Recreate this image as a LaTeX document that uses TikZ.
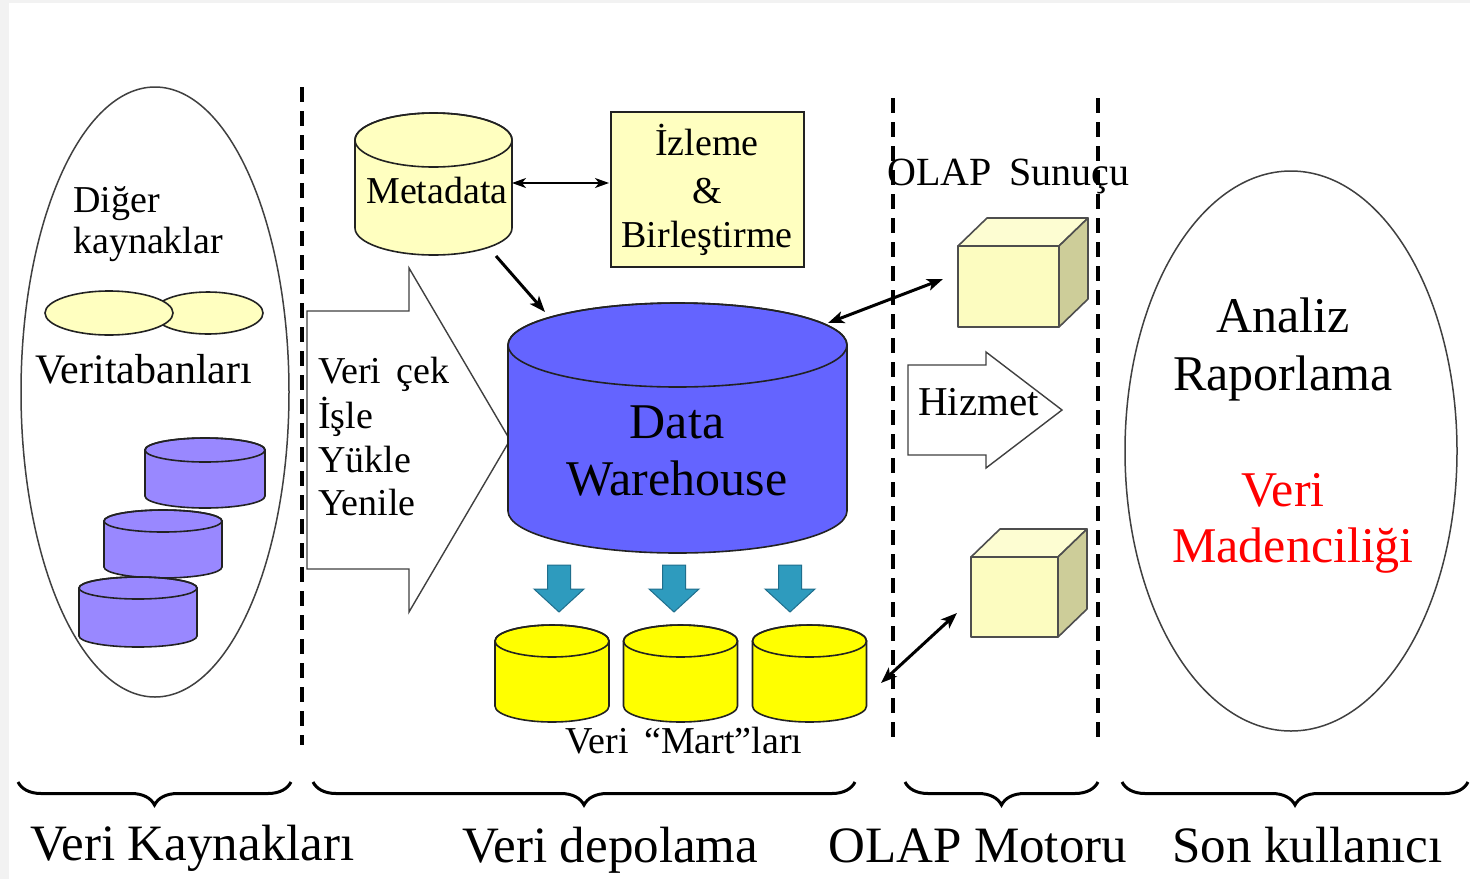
\documentclass[tikz,border=0pt]{standalone}
\usepackage{fontspec}
\setmainfont{Liberation Serif}
\usetikzlibrary{arrows.meta,decorations.pathreplacing}
\definecolor{lyel}{HTML}{FFFFC0}
\definecolor{cubefront}{HTML}{FCFCC0}
\definecolor{cubetop}{HTML}{FDFDD2}
\definecolor{cubeside}{HTML}{CDCD99}
\definecolor{lpurp}{HTML}{9988FF}
\definecolor{dwblue}{HTML}{6464FF}
\definecolor{teal}{HTML}{2E9BBE}
\definecolor{tealdark}{HTML}{1F6E8C}
\definecolor{martyel}{HTML}{FFFF00}
\definecolor{edge}{HTML}{222222}
\definecolor{bggray}{HTML}{F2F2F2}
\newcommand\szS{\fontsize{38}{44}\selectfont}
\newcommand\szM{\fontsize{42}{48}\selectfont}
\newcommand\szO{\fontsize{40}{46}\selectfont}
\newcommand\szH{\fontsize{41}{46}\selectfont}
\newcommand\szL{\fontsize{50}{57}\selectfont}
\newcommand\szB{\fontsize{51}{57}\selectfont}
% cylinder: cx, ytop, ybottom, rx, ry, fill
\newcommand\drawcyl[6]{%
  \filldraw[cylline, fill=#6] ({#1-#4},#2) -- ({#1-#4},#3)
    arc[start angle=180, end angle=0, x radius=#4, y radius=#5]
    -- ({#1+#4},#2)
    arc[start angle=0, end angle=-180, x radius=#4, y radius=#5] -- cycle;
  \draw[cylline] (#1,#2) ellipse[x radius=#4, y radius=#5];
}
% cube: x1,y1 (front top-left), x2,y2 (front bottom-right), dx, dy
\newcommand\drawcube[6]{%
  \filldraw[cubeline, fill=cubetop] (#1,#2) -- ({#1+#5},{#2+#6}) -- ({#3+#5},{#2+#6}) -- (#3,#2) -- cycle;
  \filldraw[cubeline, fill=cubeside] (#3,#2) -- ({#3+#5},{#2+#6}) -- ({#3+#5},{#4+#6}) -- (#3,#4) -- cycle;
  \filldraw[cubeline, fill=cubefront] (#1,#2) rectangle (#3,#4);
}
\newcommand\tealarrow[1]{%
  \filldraw[draw=tealdark, fill=teal, line width=1pt, line join=miter]
    ({#1-11.5},565) -- ({#1+11.5},565) -- ({#1+11.5},589) -- ({#1+25},589)
    -- (#1,612) -- ({#1-25},589) -- ({#1-11.5},589) -- cycle;
}
\begin{document}
\begin{tikzpicture}[x=1pt,y=-1pt,
  cylline/.style={draw=edge, line width=1.6pt},
  cubeline/.style={draw=edge!80, line width=1.6pt, line join=round},
  sep/.style={line width=3.6pt, dash pattern=on 15pt off 9pt},
  outl/.style={draw=black!75, line width=1.4pt},
  thinarr/.style={line width=1.6pt, {Stealth[length=14pt,width=10pt,inset=4pt]}-{Stealth[length=14pt,width=10pt,inset=4pt]}},
  thickarr/.style={line width=3pt, {Stealth[length=16pt,width=12pt,inset=4pt]}-{Stealth[length=16pt,width=12pt,inset=4pt]}},
  onearr/.style={line width=3pt, -{Stealth[length=16pt,width=12pt,inset=4pt]}},
  brc/.style={line width=3pt, decorate, decoration={brace, mirror, amplitude=23pt, aspect=0.5}},
  lbl/.style={inner sep=0pt, anchor=base west},
  lblc/.style={inner sep=0pt, anchor=base},
]
\useasboundingbox (0,0) rectangle (1470,879);
\fill[bggray] (0,0) rectangle (1470,879);
\fill[white] (9,3) rectangle (1470,879);

% separators
\draw[sep] (302,87) -- (302,745);
\draw[sep] (893,98) -- (893,742);
\draw[sep] (1098,98) -- (1098,742);

% ---------- Veri kaynaklari ----------
\draw[outl, line width=1.5pt] (155,392) ellipse[x radius=134, y radius=305];
\node[lbl] (diger) at (73,212) {\szS Diğer};
\node[lbl] (kayn) at (73,253) {\szS kaynaklar};
\filldraw[cylline, fill=lyel] (208,313) ellipse[x radius=55, y radius=21];
\filldraw[cylline, fill=lyel] (109,313) ellipse[x radius=64, y radius=22];
\node[lbl] (vtb) at (35,383) {\szM Veritabanları};
\drawcyl{205}{450}{496}{60}{12}{lpurp}
\drawcyl{163}{521}{567}{59}{11}{lpurp}
\drawcyl{138}{588}{636}{59}{11}{lpurp}

% ---------- Veri depolama ----------
\drawcyl{433.5}{140}{228}{78.5}{27}{lyel}
\node[lblc] (meta) at (437,203) {\szS Metadata};
\node[draw=edge, line width=1.6pt, fill=lyel, minimum width=193, minimum height=155, inner sep=0pt] (izl) at (707.5,189.5) {};
\node[lblc] (izl1) at (707,155) {\szS İzleme};
\node[lblc] (izl2) at (707,203) {\szS \&};
\node[lblc] (izl3) at (707,247) {\szS Birleştirme};
\coordinate (metaR) at (512,183);
\coordinate (izlL) at (609,183);
\draw[thinarr] (metaR) -- (izlL);

% big arrow
\filldraw[outl, fill=white, line join=miter] (307,311) -- (409,311) -- (409,268) -- (510,440)
  -- (409,612) -- (409,569) -- (307,569) -- cycle;
\node[lbl] (t1) at (318,383) {\szS Veri\hspace{0.15em} çek};
\node[lbl] (t2) at (318,428) {\szS İşle};
\node[lbl] (t3) at (318,472) {\szS Yükle};
\node[lbl] (t4) at (318,515) {\szS Yenile};

% data warehouse
\drawcyl{677.5}{345}{511}{169.5}{42}{dwblue}
\node[lblc] (dw1) at (677,438) {\szL Data};
\node[lblc] (dw2) at (677,495) {\szL Warehouse};
\coordinate (metaB) at (496,256);
\coordinate (dwTL) at (545,312);
\draw[onearr] (metaB) -- (dwTL);

% marts
\tealarrow{559}
\tealarrow{674}
\tealarrow{790}
\drawcyl{552}{641}{706}{57}{16}{martyel}
\drawcyl{680.5}{641}{706}{57}{16}{martyel}
\drawcyl{809.5}{641}{706}{57}{16}{martyel}
\node[lblc] (marts) at (684,753) {\szS Veri\hspace{0.15em} “Mart”ları};

% ---------- OLAP ----------
\node[lbl] (olaps) at (887,185) {\szO OLAP\hspace{0.2em} Sunuçu};
\drawcube{958}{246}{1059}{327}{29}{-28}
\drawcube{971}{557}{1058}{637}{29}{-28}
\coordinate (dwTR) at (828,323);
\coordinate (cube1L) at (943,279);
\draw[thickarr] (dwTR) -- (cube1L);
\coordinate (martR) at (881,683);
\coordinate (cube2L) at (957,613);
\draw[thickarr] (martR) -- (cube2L);
\filldraw[outl, fill=white, line join=miter] (908,365) -- (986,365) -- (986,352) -- (1062,410)
  -- (986,468) -- (986,455) -- (908,455) -- cycle;
\node[lbl] (hiz) at (918,415) {\szH Hizmet};

% ---------- Son kullanici ----------
\draw[outl, line width=1.5pt] (1291,451) ellipse[x radius=166, y radius=280];
\node[lblc] (an1) at (1283,332) {\szL Analiz};
\node[lblc] (an2) at (1283,390) {\szL Raporlama};
\node[lblc, text=red] (vm1) at (1283,506) {\szL Veri};
\node[lblc, text=red] (vm2) at (1293,562) {\szL Madenciliği};

% ---------- braces and bottom labels ----------
\draw[brc] (18,782) -- (291,782);
\draw[brc] (313,782) -- (855,782);
\draw[brc] (905,782) -- (1098,782);
\draw[brc] (1122,782) -- (1468,782);
\node[lbl] (b1) at (30,860) {\szB Veri Kaynakları};
\node[lbl] (b2) at (462,862) {\szB Veri depolama};
\node[lbl] (b3) at (828,862) {\szB OLAP Motoru};
\node[lbl] (b4) at (1172,862) {\szB Son kullanıcı};
\end{tikzpicture}
\end{document}
